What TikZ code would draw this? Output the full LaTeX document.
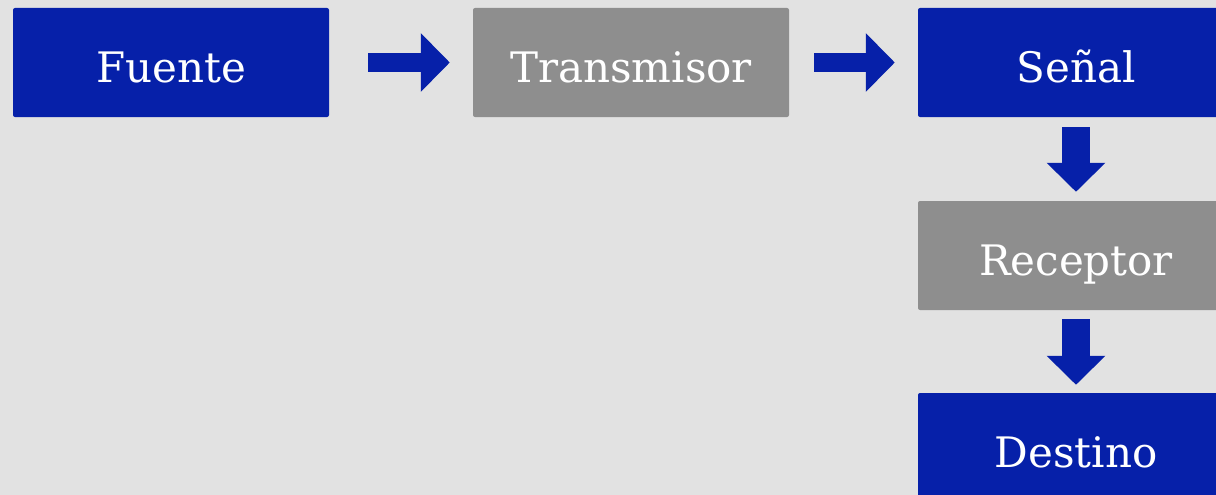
\documentclass[tikz,border=0pt]{standalone}
\usepackage{fontspec}
\setmainfont{DejaVu Serif}
\usepackage{xcolor}
\usepackage{tikz}
\usetikzlibrary{arrows.meta}
\definecolor{bluex}{HTML}{0620A9}
\definecolor{grayx}{HTML}{8E8E8E}
\definecolor{softbg}{HTML}{E2E2E2}
\tikzset{
  blk/.style={rounded corners=2pt,minimum width=316pt,minimum height=109pt,inner sep=0pt,
    text=white,font=\fontsize{42}{48}\selectfont,text height=39pt,text depth=0pt},
  bluebox/.style={blk,fill=bluex},
  graybox/.style={blk,fill=grayx},
  harr/.style={bluex,line width=19pt,-{Triangle[length=29pt,width=57pt]}},
  varr/.style={bluex,line width=28pt,-{Triangle[length=29pt,width=57pt]}}
}

\begin{document}
\begin{tikzpicture}[x=1pt,y=-1pt]
\useasboundingbox (0,0) rectangle (1216,495);
\clip (0,0) rectangle (1216,495);
\fill[softbg] (0,0) rectangle (1216,495);
\node[bluebox] (fuente) at (171,62.5) {Fuente};
\node[graybox] (trans) at (631,62.5) {Transmisor};
\node[bluebox] (senal) at (1076,62.5) {Señal};
\node[graybox] (recep) at (1076,255.5) {Receptor};
\node[bluebox] (dest) at (1076,447.5) {Destino};
\draw[harr,shorten <=39pt,shorten >=23pt] (fuente.east) -- (trans.west);
\draw[harr,shorten <=25pt,shorten >=23pt] (trans.east) -- (senal.west);
\draw[varr,shorten <=10pt,shorten >=9pt] (senal.south) -- (recep.north);
\draw[varr,shorten <=9pt,shorten >=8pt] (recep.south) -- (dest.north);
\end{tikzpicture}
\end{document}
